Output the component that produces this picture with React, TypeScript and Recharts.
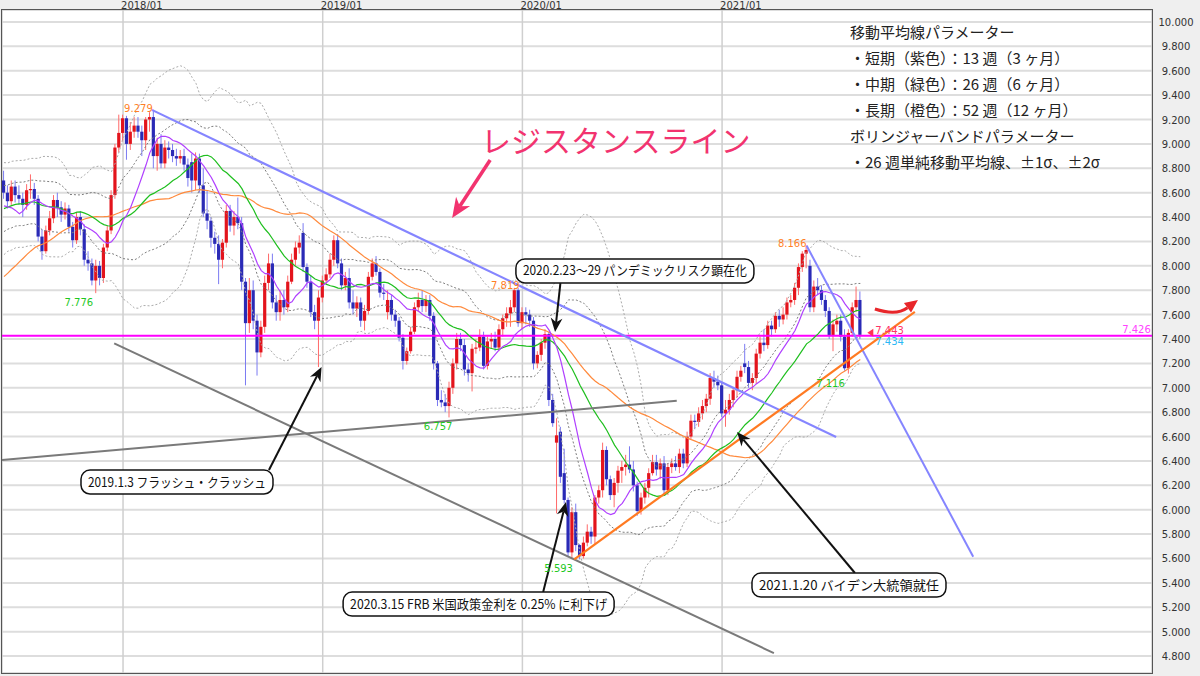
import React from 'react';
import { ComposedChart, Bar, Line, XAxis, YAxis, CartesianGrid, ReferenceLine, ReferenceDot } from 'recharts';

// weekly closes before the first visible candle (warm-up for the 52/26/13 week averages)
const history = [
  7.05, 7.0, 7.1, 6.85, 6.95, 7.0, 7.15, 7.2,
  7.35, 7.5, 7.55, 7.45, 7.35, 7.2, 7.3, 7.45, 7.5, 7.35, 7.25, 7.3, 7.4, 7.55, 7.6, 7.75, 7.95, 8.1,
  8.2, 8.35, 8.3, 8.45, 8.5, 8.4, 8.45, 8.55, 8.6, 8.5, 8.45, 8.5,
  8.55, 8.65, 8.75, 8.85, 8.9, 8.2, 8.1, 8.25, 8.3, 8.35, 8.4, 8.5, 8.55,
];

const opens = [
  8.70, 8.60, 8.53, 8.65, 8.58, 8.55, 8.50, 8.62, 8.63, 8.55,
  8.24, 8.12, 8.29, 8.39, 8.54, 8.48, 8.42, 8.47, 8.32, 8.21,
  8.40, 8.30, 8.05, 8.02, 7.88, 8.00, 7.90, 8.15, 8.29, 8.58,
  8.97, 9.09, 9.21, 9.00, 9.10, 9.15, 9.10, 9.03, 9.20, 9.22,
  8.90, 9.00, 8.84, 8.97, 8.95, 8.90, 8.88, 8.90, 8.83, 8.85,
  8.70, 8.88, 8.66, 8.43, 8.37, 8.23, 8.18, 8.05, 8.19, 8.45,
  8.33, 8.40, 8.35, 7.87, 7.53, 7.80, 7.55, 7.29, 7.50, 7.86,
  8.02, 7.70, 7.62, 7.72, 7.66, 7.87, 8.05, 8.15, 8.27, 7.99,
  7.87, 7.62, 7.55, 7.74, 7.88, 7.93, 8.05, 8.21, 8.02, 7.84,
  7.90, 7.70, 7.65, 7.70, 7.55, 7.63, 7.91, 8.02, 7.95, 7.78,
  7.62, 7.72, 7.60, 7.55, 7.41, 7.22, 7.30, 7.46, 7.66, 7.72,
  7.67, 7.72, 7.59, 7.20, 6.90, 6.88, 6.85, 7.00, 7.20, 7.40,
  7.35, 7.15, 7.12, 7.32, 7.33, 7.42, 7.18, 7.38, 7.40, 7.33,
  7.48, 7.57, 7.61, 7.66, 7.80, 7.53, 7.62, 7.60, 7.55, 7.20,
  7.27, 7.37, 7.44, 6.90, 6.55, 6.64, 6.30, 6.08, 5.65, 5.98,
  5.71, 5.62, 5.73, 5.82, 5.78, 6.10, 6.16, 6.49, 6.25, 6.12,
  6.22, 6.32, 6.35, 6.37, 6.33, 6.20, 5.99, 6.10, 6.18, 6.30,
  6.39, 6.33, 6.38, 6.16, 6.35, 6.38, 6.35, 6.46, 6.38, 6.60,
  6.73, 6.72, 6.79, 6.85, 6.91, 7.08, 7.05, 7.02, 6.79, 6.82,
  6.90, 6.98, 7.09, 7.20, 7.17, 7.04, 7.08, 7.28, 7.37, 7.35,
  7.51, 7.48, 7.59, 7.56, 7.60, 7.70, 7.72, 7.82, 7.99, 8.10,
  8.00, 7.66, 7.83, 7.80, 7.72, 7.63, 7.43, 7.52, 7.55, 7.42,
  7.16, 7.45, 7.66, 7.72,
];

const highs = [
  8.78, 8.66, 8.70, 8.70, 8.66, 8.60, 8.67, 8.75, 8.68, 8.58,
  8.30, 8.33, 8.45, 8.58, 8.60, 8.53, 8.52, 8.50, 8.36, 8.44,
  8.45, 8.34, 8.12, 8.06, 8.05, 8.04, 8.18, 8.33, 8.62, 9.00,
  9.24, 9.24, 9.23, 9.18, 9.22, 9.22, 9.15, 9.22, 9.26, 9.279,
  9.05, 9.08, 9.03, 9.02, 9.00, 8.96, 8.95, 8.96, 8.88, 8.92,
  8.93, 8.92, 8.80, 8.62, 8.40, 8.28, 8.25, 8.22, 8.50, 8.50,
  8.45, 8.56, 8.40, 7.90, 7.90, 7.88, 7.60, 7.55, 7.92, 8.10,
  8.10, 7.76, 7.80, 7.80, 7.92, 8.10, 8.20, 8.25, 8.35, 8.02,
  7.92, 7.68, 7.80, 7.92, 7.98, 8.10, 8.25, 8.26, 8.06, 7.95,
  7.98, 7.80, 7.75, 7.74, 7.68, 7.95, 8.06, 8.08, 7.98, 7.85,
  7.80, 7.76, 7.64, 7.58, 7.44, 7.33, 7.50, 7.70, 7.78, 7.80,
  7.76, 7.76, 7.62, 7.22, 6.98, 6.95, 7.05, 7.24, 7.45, 7.45,
  7.40, 7.20, 7.36, 7.40, 7.48, 7.46, 7.42, 7.45, 7.46, 7.52,
  7.60, 7.66, 7.72, 7.819, 7.82, 7.66, 7.66, 7.64, 7.58, 7.30,
  7.40, 7.48, 7.46, 6.95, 6.75, 6.68, 6.50, 6.10, 6.02, 6.05,
  5.72, 5.78, 5.88, 5.86, 6.12, 6.20, 6.55, 6.52, 6.28, 6.26,
  6.36, 6.40, 6.45, 6.52, 6.40, 6.23, 6.14, 6.22, 6.34, 6.45,
  6.45, 6.42, 6.44, 6.38, 6.42, 6.44, 6.50, 6.50, 6.64, 6.78,
  6.78, 6.84, 6.90, 6.95, 7.12, 7.14, 7.10, 7.05, 6.90, 6.95,
  7.00, 7.14, 7.18, 7.36, 7.22, 7.12, 7.32, 7.42, 7.48, 7.55,
  7.55, 7.62, 7.64, 7.66, 7.74, 7.76, 7.86, 8.02, 8.12, 8.166,
  8.05, 7.88, 7.90, 7.84, 7.76, 7.66, 7.56, 7.60, 7.60, 7.48,
  7.48, 7.70, 7.83, 7.79,
];

const lows = [
  8.55, 8.47, 8.50, 8.52, 8.50, 8.40, 8.46, 8.55, 8.50, 8.20,
  8.05, 8.10, 8.25, 8.35, 8.40, 8.36, 8.38, 8.28, 8.15, 8.18,
  8.25, 8.00, 7.96, 7.84, 7.776, 7.84, 7.86, 8.12, 8.26, 8.55,
  8.93, 9.02, 8.87, 8.95, 9.05, 9.05, 8.90, 8.95, 9.10, 8.80,
  8.78, 8.80, 8.80, 8.88, 8.85, 8.82, 8.84, 8.78, 8.65, 8.60,
  8.62, 8.60, 8.40, 8.30, 8.15, 8.10, 7.85, 7.98, 8.15, 8.28,
  8.25, 8.30, 7.80, 7.02, 7.45, 7.48, 7.10, 7.25, 7.45, 7.80,
  7.65, 7.55, 7.55, 7.60, 7.62, 7.85, 8.00, 8.10, 7.95, 7.82,
  7.58, 7.48, 7.17, 7.70, 7.85, 7.90, 8.00, 7.98, 7.80, 7.80,
  7.65, 7.60, 7.58, 7.50, 7.47, 7.60, 7.88, 7.92, 7.74, 7.72,
  7.56, 7.55, 7.50, 7.38, 7.15, 7.19, 7.28, 7.44, 7.62, 7.62,
  7.62, 7.55, 7.15, 6.85, 6.84, 6.80, 6.757, 6.95, 7.15, 7.30,
  7.10, 7.05, 6.97, 7.28, 7.30, 7.15, 7.15, 7.32, 7.30, 7.30,
  7.42, 7.50, 7.50, 7.62, 7.50, 7.48, 7.52, 7.50, 7.15, 7.16,
  7.22, 7.32, 6.85, 6.68, 5.97, 6.22, 6.05, 5.62, 5.60, 5.66,
  5.593, 5.60, 5.70, 5.72, 5.72, 6.05, 6.10, 6.20, 6.08, 6.02,
  6.14, 6.22, 6.28, 6.30, 6.15, 5.95, 5.96, 6.05, 6.10, 6.28,
  6.28, 6.25, 6.12, 6.12, 6.30, 6.32, 6.30, 6.34, 6.35, 6.58,
  6.66, 6.68, 6.74, 6.80, 6.86, 7.00, 6.98, 6.76, 6.68, 6.78,
  6.84, 6.92, 7.05, 7.12, 7.00, 6.98, 7.03, 7.24, 7.30, 7.32,
  7.42, 7.45, 7.50, 7.52, 7.56, 7.66, 7.68, 7.76, 7.95, 7.98,
  7.62, 7.62, 7.76, 7.68, 7.58, 7.40, 7.30, 7.46, 7.38, 7.14,
  7.116, 7.42, 7.62, 7.40,
];

const closes = [
  8.60, 8.53, 8.65, 8.58, 8.55, 8.50, 8.62, 8.63, 8.55, 8.24,
  8.12, 8.29, 8.39, 8.54, 8.48, 8.42, 8.47, 8.32, 8.21, 8.40,
  8.30, 8.05, 8.02, 7.88, 8.00, 7.90, 8.15, 8.29, 8.58, 8.97,
  9.09, 9.21, 9.00, 9.10, 9.15, 9.10, 9.03, 9.20, 9.22, 8.90,
  9.00, 8.84, 8.97, 8.95, 8.90, 8.88, 8.90, 8.83, 8.72, 8.70,
  8.88, 8.66, 8.43, 8.37, 8.23, 8.18, 8.05, 8.19, 8.45, 8.33,
  8.40, 8.35, 7.87, 7.53, 7.80, 7.55, 7.29, 7.50, 7.86, 8.02,
  7.70, 7.62, 7.72, 7.66, 7.87, 8.05, 8.15, 8.19, 7.99, 7.87,
  7.62, 7.55, 7.74, 7.88, 7.93, 8.05, 8.21, 8.02, 7.84, 7.90,
  7.70, 7.65, 7.70, 7.55, 7.63, 7.91, 8.02, 7.95, 7.78, 7.77,
  7.72, 7.60, 7.55, 7.41, 7.22, 7.30, 7.46, 7.66, 7.72, 7.67,
  7.72, 7.59, 7.20, 6.90, 6.88, 6.85, 7.00, 7.20, 7.40, 7.35,
  7.15, 7.12, 7.32, 7.33, 7.42, 7.18, 7.38, 7.40, 7.33, 7.48,
  7.57, 7.61, 7.66, 7.80, 7.53, 7.62, 7.60, 7.55, 7.20, 7.27,
  7.37, 7.44, 6.90, 6.71, 6.61, 6.27, 6.08, 5.65, 5.98, 5.71,
  5.62, 5.73, 5.82, 5.78, 6.10, 6.16, 6.49, 6.25, 6.12, 6.22,
  6.32, 6.35, 6.37, 6.33, 6.20, 5.99, 6.10, 6.18, 6.30, 6.39,
  6.33, 6.38, 6.16, 6.35, 6.38, 6.35, 6.46, 6.38, 6.60, 6.73,
  6.72, 6.79, 6.85, 6.91, 7.08, 7.05, 7.02, 6.79, 6.82, 6.90,
  6.98, 7.09, 7.14, 7.17, 7.04, 7.08, 7.28, 7.37, 7.35, 7.51,
  7.48, 7.59, 7.56, 7.60, 7.70, 7.72, 7.82, 7.99, 8.10, 8.13,
  7.66, 7.83, 7.80, 7.72, 7.63, 7.43, 7.52, 7.55, 7.42, 7.16,
  7.45, 7.66, 7.72, 7.434,
];

const yearTicks = [31, 83, 135, 187];
const yearLabels = ['2018/01', '2019/01', '2020/01', '2021/01'];
const priceTicks = [4.8, 5.0, 5.2, 5.4, 5.6, 5.8, 6.0, 6.2, 6.4, 6.6, 6.8, 7.0, 7.2, 7.4, 7.6, 7.8, 8.0, 8.2, 8.4, 8.6, 8.8, 9.0, 9.2, 9.4, 9.6, 9.8, 10.0];

const pivotLevel = 7.426;
const askLevel = 7.443;

// peak / trough labels
const peakIdx = [39, 133, 209];
const troughIdx = [24, 116, 150, 220];

// hand-drawn lines: [[i1, v1], [i2, v2]]
const resistanceLine = [[38.5, 9.279], [216.7, 6.596]];
const steepLine = [[209, 8.166], [252.4, 5.614]];
const grayFlat = [[-0.52, 6.407], [175.2, 6.893]];
const grayDown = [[28.7, 7.364], [200.5, 4.824]];
const supportLine = [[148.5, 5.593], [237.2, 7.623]];
const pinkArrow = [[126.6, 8.868], [116.7, 8.392]];
const redArrow = [[226.8, 7.646], [238.0, 7.72]];

const callTexts = [
  '2020.2.23〜29 パンデミックリスク顕在化',
  '2019.1.3 フラッシュ・クラッシュ',
  '2020.3.15 FRB 米国政策金利を 0.25% に利下げ',
  '2021.1.20 バイデン大統領就任',
];
const callBox = [[164.3, 7.958], [45.05, 6.227], [123.6, 5.226], [220.05, 5.382]];
const callFrom = [[144.9, 7.859], [69.0, 6.326], [140.4, 5.325], [221.6, 5.481]];
const callTip = [[143.5, 7.457], [82.7, 7.17], [146.35, 6.063], [190.9, 6.637]];
const callWidth = [238, 192, 271, 194];

const paramLines = [
  '移動平均線パラメーター',
  '・短期（紫色）：13 週（3 ヶ月）',
  '・中期（緑色）：26 週（6 ヶ月）',
  '・長期（橙色）：52 週（12 ヶ月）',
  'ボリンジャーバンドパラメーター',
  '・26 週単純移動平均線、±1σ、±2σ',
];

const ORANGE = '#ff7f27';
const GREEN = '#1fc81f';
const JP = '"Noto Sans CJK JP", "Noto Sans", sans-serif';

const allCloses = history.concat(closes);
const H = history.length;
const mean = (end: number, n: number) => {
  let s = 0;
  for (let k = end - n + 1; k <= end; k++) s += allCloses[k];
  return s / n;
};
const stdev = (end: number, n: number, m: number) => {
  let s = 0;
  for (let k = end - n + 1; k <= end; k++) s += (allCloses[k] - m) ** 2;
  return Math.sqrt(s / n);
};

const rows = closes.map((c, i) => {
  const e = i + H;
  const m26 = mean(e, 26);
  const sd = stdev(e, 26, m26);
  return {
    i, o: opens[i], h: highs[i], l: lows[i], c,
    range: [lows[i], highs[i]],
    ma13: mean(e, 13), ma26: m26, ma52: mean(e, 52),
    up1: m26 + sd, dn1: m26 - sd, up2: m26 + 2 * sd, dn2: m26 - 2 * sd,
  };
});

const Candle = (props: any) => {
  const { x, y, width, height, payload } = props;
  if (x == null || !payload) return null;
  const { o, h, l, c } = payload;
  const top = Math.min(y, y + height);
  const span = Math.abs(height);
  const py = (v: number) => top + ((h - v) / (h - l || 1)) * span;
  const cx = x + width / 2;
  const up = c >= o;
  const bt = py(Math.max(o, c));
  const bb = py(Math.min(o, c));
  return (
    <g>
      <line x1={cx} x2={cx} y1={top} y2={top + span} stroke={up ? '#ff6a6a' : '#7b7bf2'} strokeWidth={1} />
      <rect x={cx - 1.6} y={bt} width={3.2} height={Math.max(1, bb - bt)} fill={up ? '#e3141c' : '#2a2ab6'} />
    </g>
  );
};

const tag = (text: string, color: string, dx: number, dy: number, anchor = 'end') => (p: any) => (
  <text x={p.cx + dx} y={p.cy + dy} fill={color} fontSize={10} textAnchor={anchor}>{text}</text>
);

const arrow = (color: string, w: number, head: number) => (p: any) => {
  const { x1, y1, x2, y2 } = p;
  const a = Math.atan2(y2 - y1, x2 - x1);
  const bx = x2 - head * Math.cos(a);
  const by = y2 - head * Math.sin(a);
  const hw = head * 0.42;
  const nx = x2 - head * 0.7 * Math.cos(a);
  const ny = y2 - head * 0.7 * Math.sin(a);
  const pts = `${x2},${y2} ${bx + hw * Math.sin(a)},${by - hw * Math.cos(a)} ${nx},${ny} ${bx - hw * Math.sin(a)},${by + hw * Math.cos(a)}`;
  return (
    <g>
      <line x1={x1} y1={y1} x2={nx} y2={ny} stroke={color} strokeWidth={w} />
      <polygon points={pts} fill={color} />
    </g>
  );
};

const curvedArrow = (p: any) => {
  const { x1, y1, x2, y2 } = p;
  const qx = (x1 + x2) / 2;
  const qy = y1 + 7;
  const a = Math.atan2(y2 - qy, x2 - qx);
  const head = 13;
  const bx = x2 - head * Math.cos(a);
  const by = y2 - head * Math.sin(a);
  const hw = 6;
  const pts = `${x2},${y2} ${bx + hw * Math.sin(a)},${by - hw * Math.cos(a)} ${bx - hw * Math.sin(a)},${by + hw * Math.cos(a)}`;
  return (
    <g>
      <path d={`M${x1},${y1} Q${qx},${qy} ${bx},${by}`} stroke="#e8262a" strokeWidth={3} fill="none" />
      <polygon points={pts} fill="#e8262a" />
    </g>
  );
};

const callout = (text: string, w: number) => (p: any) => (
  <g>
    <rect x={p.cx - w / 2} y={p.cy - 12} width={w} height={24} rx={9} fill="#fff" stroke="#111" strokeWidth={1.5} />
    <text x={p.cx} y={p.cy + 4.5} textAnchor="middle" fontSize={13} fill="#111" fontFamily={JP}
      textLength={w - 14} lengthAdjust="spacingAndGlyphs">{text}</text>
  </g>
);

const askMark = (p: any) => (
  <g>
    <polygon points={`${p.cx + 7},${p.cy - 1} ${p.cx + 13},${p.cy - 5} ${p.cx + 13},${p.cy + 3}`} fill="#ff3355" />
    <text x={p.cx + 15} y={p.cy} fill="#ff3366" fontSize={10}>{askLevel.toFixed(3)}</text>
  </g>
);

const YearTick = (p: any) => {
  const k = yearTicks.indexOf(p.payload.value);
  return <text x={p.x - 2} y={9} fontSize={10} fill="#333">{yearLabels[k]}</text>;
};

const PriceTick = (p: any) => (
  <text x={p.x + 16} y={p.y + 4} fontSize={10} fill="#333" textAnchor="middle">
    {Number(p.payload.value).toFixed(3)}
  </text>
);

const seg = (s: number[][]) => [{ x: s[0][0], y: s[0][1] }, { x: s[1][0], y: s[1][1] }];

export default function App() {
  return (
    <div style={{ position: 'relative', width: 1200, height: 676, background: '#efefef', overflow: 'hidden' }}>
      <style>{'body{margin:0}'}</style>
      <ComposedChart width={1200} height={676} data={rows} margin={{ top: 0, right: 0, bottom: 3, left: 2 }}
        style={{ fontFamily: '"DejaVu Sans", Verdana, sans-serif' }}>
        <CartesianGrid horizontal vertical={false} stroke="#dddddd" strokeWidth={2} fill="#ffffff" />
        <CartesianGrid horizontal={false} vertical stroke="#cfcfcf" strokeWidth={1.5} />
        <XAxis dataKey="i" type="number" orientation="top" height={10} domain={[-0.52, 298.96]} allowDataOverflow
          ticks={yearTicks} tick={YearTick} axisLine={false} tickLine={false} />
        <YAxis orientation="right" type="number" width={48} domain={[4.661, 10.098]} allowDataOverflow
          ticks={priceTicks} tick={PriceTick} axisLine={false} tickLine={false} interval={0} />

        <Line dataKey="up2" stroke="#ababab" strokeWidth={1} strokeDasharray="2 2" dot={false} isAnimationActive={false} />
        <Line dataKey="dn2" stroke="#ababab" strokeWidth={1} strokeDasharray="2 2" dot={false} isAnimationActive={false} />
        <Line dataKey="up1" stroke="#7d7d7d" strokeWidth={1} strokeDasharray="2 2" dot={false} isAnimationActive={false} />
        <Line dataKey="dn1" stroke="#7d7d7d" strokeWidth={1} strokeDasharray="2 2" dot={false} isAnimationActive={false} />

        <ReferenceLine y={pivotLevel} stroke="#ff00ff" strokeWidth={2} />

        <Bar dataKey="range" barSize={3} shape={Candle} isAnimationActive={false} />

        <Line dataKey="ma52" stroke="#ff8a3d" strokeWidth={1.2} dot={false} isAnimationActive={false} />
        <Line dataKey="ma26" stroke="#1fbf1f" strokeWidth={1.2} dot={false} isAnimationActive={false} />
        <Line dataKey="ma13" stroke="#b040ff" strokeWidth={1.2} dot={false} isAnimationActive={false} />

        <ReferenceLine segment={seg(grayFlat)} stroke="#7a7a7a" strokeWidth={2} ifOverflow="visible" />
        <ReferenceLine segment={seg(grayDown)} stroke="#7a7a7a" strokeWidth={2} ifOverflow="visible" />
        <ReferenceLine segment={seg(resistanceLine)} stroke="#8585ff" strokeWidth={2.2} ifOverflow="visible" />
        <ReferenceLine segment={seg(steepLine)} stroke="#8585ff" strokeWidth={2} ifOverflow="visible" />
        <ReferenceLine segment={seg(supportLine)} stroke="#ff7a22" strokeWidth={2.2} ifOverflow="visible" />
        <ReferenceLine segment={seg(pinkArrow)} ifOverflow="visible" shape={arrow('#f2336f', 3.5, 20)} />
        <ReferenceLine segment={seg(redArrow)} ifOverflow="visible" shape={curvedArrow} />

        <ReferenceDot x={peakIdx[0]} y={highs[peakIdx[0]]} r={0} ifOverflow="visible" shape={tag(highs[peakIdx[0]].toFixed(3), ORANGE, -1, 2)} />
        <ReferenceDot x={peakIdx[1]} y={highs[peakIdx[1]]} r={0} ifOverflow="visible" shape={tag(highs[peakIdx[1]].toFixed(3), ORANGE, 5, 1)} />
        <ReferenceDot x={peakIdx[2]} y={highs[peakIdx[2]]} r={0} ifOverflow="visible" shape={tag(highs[peakIdx[2]].toFixed(3), ORANGE, 0, 1)} />
        <ReferenceDot x={troughIdx[0]} y={lows[troughIdx[0]]} r={0} ifOverflow="visible" shape={tag(lows[troughIdx[0]].toFixed(3), GREEN, -3, 13)} />
        <ReferenceDot x={troughIdx[1]} y={lows[troughIdx[1]]} r={0} ifOverflow="visible" shape={tag(lows[troughIdx[1]].toFixed(3), GREEN, 3, 13)} />
        <ReferenceDot x={troughIdx[2]} y={lows[troughIdx[2]]} r={0} ifOverflow="visible" shape={tag(lows[troughIdx[2]].toFixed(3), GREEN, -7, 13)} />
        <ReferenceDot x={troughIdx[3]} y={lows[troughIdx[3]]} r={0} ifOverflow="visible" shape={tag(lows[troughIdx[3]].toFixed(3), GREEN, -4, 13)} />

        <ReferenceDot x={223} y={askLevel} r={0} ifOverflow="visible" shape={askMark} />
        <ReferenceDot x={223} y={closes[223]} r={0} ifOverflow="visible" shape={tag(closes[223].toFixed(3), '#2bb8f5', 15, 10, 'start')} />
        <ReferenceDot x={298.9} y={pivotLevel} r={0} ifOverflow="visible" shape={tag(pivotLevel.toFixed(3), '#ff44ff', -1, -3)} />

        {callTexts.map((t, k) => (
          <ReferenceLine key={'a' + k} segment={seg([callFrom[k], callTip[k]])} ifOverflow="visible" shape={arrow('#111', 2, 14)} />
        ))}
        {callTexts.map((t, k) => (
          <ReferenceDot key={'b' + k} x={callBox[k][0]} y={callBox[k][1]} r={0} ifOverflow="visible" shape={callout(t, callWidth[k])} />
        ))}
      </ComposedChart>

      <div style={{ position: 'absolute', left: 1, top: 9, width: 1152, height: 665, border: '1.5px solid #555', boxSizing: 'border-box', pointerEvents: 'none' }} />

      <div style={{ position: 'absolute', left: 481, top: 124, fontFamily: JP, fontSize: 30, lineHeight: '30px', color: '#f2336f', whiteSpace: 'nowrap' }}>
        レジスタンスライン
      </div>

      <div style={{ position: 'absolute', left: 850, top: 19, fontFamily: JP, fontSize: 15, lineHeight: '26px', color: '#222', whiteSpace: 'pre' }}>
        {paramLines.map((s, k) => <div key={k}>{s}</div>)}
      </div>
    </div>
  );
}
